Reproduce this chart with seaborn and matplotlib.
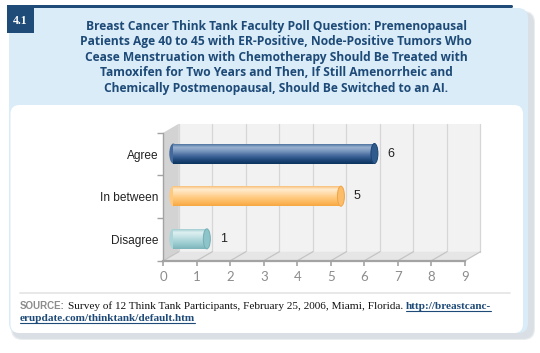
import numpy as np
import pandas as pd
import matplotlib
matplotlib.use("Agg")
import matplotlib.pyplot as plt
import seaborn as sns
from matplotlib.patches import Rectangle, Polygon, Ellipse, FancyBboxPatch
from matplotlib.transforms import ScaledTranslation
from matplotlib.colors import LinearSegmentedColormap

# ---------------- data ----------------
categories = ["Agree", "In between", "Disagree"]
counts = [6, 5, 1]
x_ticks = list(range(10))
panel_label = "4.1"
title_lines = [
    "Breast Cancer Think Tank Faculty Poll Question: Premenopausal",
    "Patients Age 40 to 45 with ER-Positive, Node-Positive Tumors Who",
    "Cease Menstruation with Chemotherapy Should Be Treated with",
    "Tamoxifen for Two Years and Then, If Still Amenorrheic and",
    "Chemically Postmenopausal, Should Be Switched to an AI.",
]
source_label = "SOURCE:"
source_text = "Survey of 12 Think Tank Participants, February 25, 2006, Miami, Florida."
source_link = ["http://breastcanc-", "erupdate.com/thinktank/default.htm"]

# ---------------- styles ----------------
bar_grads = [
    ["#3a6393", "#9bb2d1", "#7593bb", "#44699c", "#214a7b", "#0c335f"],
    ["#f8b35f", "#ffeccf", "#ffdcaa", "#ffca80", "#fdba60", "#f7a844"],
    ["#8ec3c8", "#dff0f1", "#c6e3e6", "#acd5d9", "#94c7cc", "#7db5ba"],
]
cap_colors = ["#2f5a8c", "#fbbd6a", "#8cc4c9"]
cap_edges = ["#1b4474", "#f0a445", "#74aeb4"]
mid_colors = ["#2f5a8c", "#ffcf8f", "#a8d2d6"]
navy = "#1f4b78"

W, H = 540, 353
sns.set_theme(style="white")
plt.rcParams["font.family"] = ["Liberation Sans", "DejaVu Sans"]

fig = plt.figure(figsize=(W / 100, H / 100), dpi=100)
fig.patch.set_facecolor("white")

# background axes in pixel coordinates
bg = fig.add_axes([0, 0, 1, 1])
bg.set_xlim(0, W)
bg.set_ylim(H, 0)
bg.axis("off")

# soft shadow
for i, (a, c) in enumerate([(0.35, "#c4ccd3"), (0.5, "#ccd4da"), (0.9, "#d9dfe4")]):
    bg.add_patch(FancyBboxPatch((11 + i, 11 + i), 524 - 2 * i, 329 - 2 * i,
                                boxstyle="round,pad=0,rounding_size=11",
                                fc=c, ec="none", alpha=a, zorder=0))
# light blue panel
bg.add_patch(FancyBboxPatch((9, 8), 519, 325, boxstyle="round,pad=0,rounding_size=10",
                            fc="#d9ecf8", ec="none", zorder=1))
bg.add_patch(Rectangle((9, 8), 20, 20, fc="#d9ecf8", ec="none", zorder=1))
# white inner panel
bg.add_patch(FancyBboxPatch((10.5, 105), 512.5, 228, boxstyle="round,pad=0,rounding_size=9",
                            fc="white", ec="none", zorder=2))
# top navy rule and label box
bg.add_patch(FancyBboxPatch((7, 5), 506, 3, boxstyle="round,pad=0,rounding_size=1.5",
                            fc=navy, ec="none", zorder=3))
bg.add_patch(Rectangle((6.7, 5), 27.3, 28, fc=navy, ec="none", zorder=3))
bg.text(20.3, 24, panel_label, color="white", fontsize=8.5, fontweight="bold",
        family=["Liberation Serif"], ha="center", va="baseline", zorder=4)

# title
for i, line in enumerate(title_lines):
    bg.text(276, 30 + 15.4 * i, line, ha="center", va="baseline", fontsize=8.65,
            fontweight="bold", color="#1e4a78", family=["Open Sans", "DejaVu Sans"], zorder=4)

# separator
bg.plot([20, 510], [293, 293], color="#e6e6e6", lw=1.3, zorder=3)

# ---------------- main chart ----------------
L, R, T, B = 163.3, 465.0, 132.7, 260.7
ax = fig.add_axes([L / W, 1 - B / H, (R - L) / W, (B - T) / H])
ax.patch.set_alpha(0)
df = pd.DataFrame({"response": categories, "count": counts})
sns.barplot(data=df, y="response", x="count", hue="response", palette=mid_colors,
            legend=False, width=0.47, orient="h", saturation=1, ax=ax, zorder=3)
bar_patches = [pp for pp in ax.patches if isinstance(pp, Rectangle) and pp.get_width() > 0]

px_x = (R - L) / 9.0
px_y = (B - T) / 3.0
ddx = 15.5 / px_x      # depth offset in data units
ddy = -9.0 / px_y

# back wall
ax.add_patch(Rectangle((ddx, -0.5 + ddy), 9, 3, fc="#f2f2f2", ec="none", zorder=0.2, clip_on=False))
for t in x_ticks:
    ax.plot([t + ddx, t + ddx], [-0.5 + ddy, 2.5 + ddy], color="#d6d6d6", lw=0.9,
            zorder=0.3, clip_on=False)
# side wall
ax.add_patch(Polygon([(0, -0.5), (ddx, -0.5 + ddy), (ddx, 2.5 + ddy), (0, 2.5)],
                     closed=True, fc="#d3d3d3", ec="none", zorder=0.4, clip_on=False))
# floor
ax.add_patch(Polygon([(0, 2.5), (9, 2.5), (9 + ddx, 2.5 + ddy), (ddx, 2.5 + ddy)],
                     closed=True, fc="#e6e6e6", ec="none", zorder=0.4, clip_on=False))
for t in x_ticks:
    ax.plot([t, t + ddx], [2.5, 2.5 + ddy], color="#c4c4c4", lw=0.9, zorder=0.5, clip_on=False)

# bars: cylinder shading
bar_off = ax.transData + ScaledTranslation(10 / 100, 0.5 / 100, fig.dpi_scale_trans)
lab_off = ax.transData + ScaledTranslation(26.3 / 100, 0.5 / 100, fig.dpi_scale_trans)
grad = np.linspace(0, 1, 64).reshape(-1, 1)
for i, p in enumerate(bar_patches):
    x0, y0, w, h = p.get_x(), p.get_y(), p.get_width(), p.get_height()
    p.set_transform(bar_off)
    p.set_edgecolor("none")
    cmap = LinearSegmentedColormap.from_list(f"g{i}", bar_grads[i])
    ax.add_patch(Ellipse((x0, y0 + h / 2), 8 / px_x, h, transform=bar_off,
                         fc=bar_grads[i][3], ec="none", zorder=2.9))
    im = ax.imshow(grad, cmap=cmap, aspect="auto", extent=[x0, x0 + w, y0 + h, y0],
                   origin="upper", interpolation="bilinear", zorder=3.1)
    im.set_transform(bar_off)
    im.set_clip_path(p)
    ax.add_patch(Ellipse((x0 + w, y0 + h / 2), 7 / px_x, h, transform=bar_off,
                         fc=cap_colors[i], ec=cap_edges[i], lw=0.7, zorder=4))
    ax.text(x0 + w, y0 + h / 2, f"{counts[i]:g}", transform=lab_off, ha="center",
            va="center", fontsize=9, color="#222222", zorder=5)

ax.set_xlim(0, 9)
ax.set_ylim(2.5, -0.5)
ax.set_xlabel("")
ax.set_ylabel("")
ax.grid(False)

for s in ["top", "right"]:
    ax.spines[s].set_visible(False)
ax.spines["bottom"].set_color("#a3a3a3")
ax.spines["bottom"].set_linewidth(1.6)
ax.spines["bottom"].set_zorder(6)
ax.spines["left"].set_color("#a3a3a3")
ax.spines["left"].set_linewidth(1.0)
ax.spines["left"].set_zorder(6)

ax.set_xticks(x_ticks)
ax.set_xticklabels([str(t) for t in x_ticks], fontsize=9.5, color="#8c8c8c",
                   family=["Lato", "DejaVu Sans"])
ax.tick_params(axis="x", which="major", bottom=True, length=3.3, width=1.2,
               color="#a3a3a3", pad=3.8, direction="out")
ax.set_yticks(range(len(categories)))
ax.set_yticklabels(categories, fontsize=8.6, color="#222222")
ax.tick_params(axis="y", which="major", left=False, length=0, pad=3.6)
ax.set_yticks([-0.5, 0.5, 1.5, 2.5], minor=True)
ax.tick_params(axis="y", which="minor", left=True, length=4.3, width=1.0,
               color="#a3a3a3", direction="out")

# ---------------- source note ----------------
renderer = fig.canvas.get_renderer()
t1 = bg.text(20, 309, source_label, fontsize=7.0, color="#8c8c8c", fontweight="bold",
             family=["Liberation Sans"], va="baseline", zorder=5)
x = t1.get_window_extent(renderer).x1 + 3
t2 = bg.text(x, 309, source_text, fontsize=8.1, color="#111111",
             family=["Liberation Serif"], va="baseline", zorder=5)
x = t2.get_window_extent(renderer).x1 + 3
t3 = bg.text(x, 309, source_link[0], fontsize=8.1, color="#1e4a78", fontweight="bold",
             family=["Liberation Serif"], va="baseline", zorder=5)
e3 = t3.get_window_extent(renderer)
bg.plot([e3.x0, e3.x1], [311, 311], color="#1e4a78", lw=0.8, zorder=5)
t4 = bg.text(20, 321, source_link[1], fontsize=8.1, color="#1e4a78", fontweight="bold",
             family=["Liberation Serif"], va="baseline", zorder=5)
e4 = t4.get_window_extent(renderer)
bg.plot([e4.x0, e4.x1], [323, 323], color="#1e4a78", lw=0.8, zorder=5)

fig.savefig("out.png", dpi=100)
